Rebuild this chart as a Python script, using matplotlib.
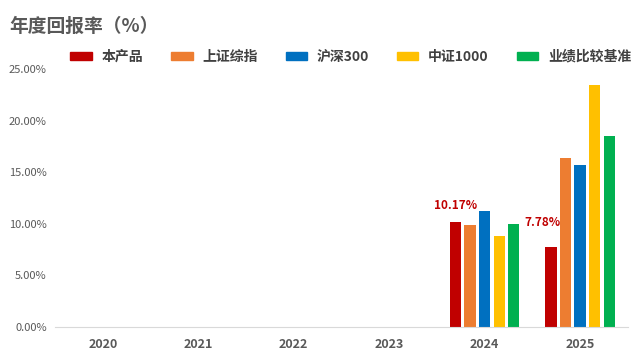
import numpy as np
import matplotlib.pyplot as plt
from matplotlib.patches import Patch

plt.rcParams['font.family'] = ['Noto Sans CJK SC', 'DejaVu Sans']

# -------------------------
# Data
# -------------------------
years = ['2020', '2021', '2022', '2023', '2024', '2025']
series = ['本产品', '上证综指', '沪深300', '中证1000', '业绩比较基准']
colors = ['#C00000', '#ED7D31', '#0070C0', '#FFC000', '#00B050']

product = [0, 0, 0, 0, 10.17, 7.78]
sse = [0, 0, 0, 0, 9.85, 16.4]
csi300 = [0, 0, 0, 0, 11.25, 15.7]
csi1000 = [0, 0, 0, 0, 8.85, 23.45]
benchmark = [0, 0, 0, 0, 10.0, 18.55]
values = [product, sse, csi300, csi1000, benchmark]

# -------------------------
# Plot
# -------------------------
fig = plt.figure(figsize=(6.4, 3.6), dpi=100)
ax = fig.add_axes([0.086, 0.092, 0.895, 0.716])

x = np.arange(len(years))
pitch = 0.153
width = 0.118
for i, (name, vals, c) in enumerate(zip(series, values, colors)):
    ax.bar(x + (i - 2) * pitch, vals, width, color=c, label=name)

# labels for the product only (offsets as placed in the original)
label_offsets = {4: (0, 7), 5: (-6, 13)}
for xi, v in zip(x, product):
    if v > 0:
        ax.annotate(f'{v:.2f}%', (xi - 2 * pitch, v), xytext=label_offsets[xi],
                    textcoords='offset points', ha='center', va='bottom',
                    color='#C00000', fontsize=8.5, fontweight='bold')

ax.set_ylim(0, 25)
ax.set_xlim(-0.5, len(years) - 0.5)
ax.set_yticks(np.arange(0, 26, 5))
ax.set_yticklabels([f'{t:.2f}%' for t in np.arange(0, 26, 5)])
ax.set_xticks(x)
ax.set_xticklabels(years, fontweight='bold')
ax.tick_params(axis='y', length=0, labelsize=8, labelcolor='#595959', pad=6)
ax.tick_params(axis='x', length=0, labelsize=9, labelcolor='#595959', pad=8)

for s in ['top', 'right', 'left']:
    ax.spines[s].set_visible(False)
ax.spines['bottom'].set_color('#D9D9D9')

fig.text(0.014, 0.928, '年度回报率（%）', fontsize=13.5, fontweight='bold',
         color='#595959', va='center')

handles = [Patch(color=c) for c in colors]
fig.legend(handles, series, loc='center', bbox_to_anchor=(0.548, 0.842),
           ncol=5, frameon=False, handlelength=1.55, handleheight=0.6,
           columnspacing=2.0, handletextpad=0.7,
           prop={'size': 10, 'weight': 'bold'}, labelcolor='#404040')

fig.savefig('out.png', dpi=100)
